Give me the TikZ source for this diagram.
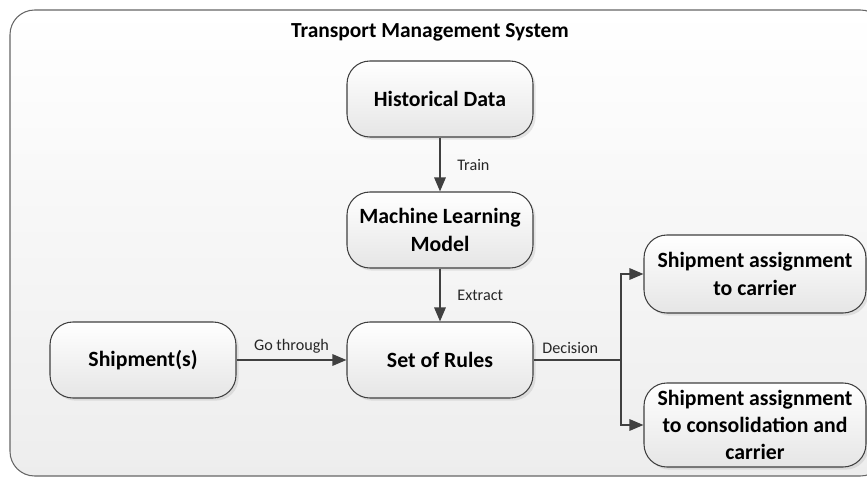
\documentclass[tikz,border=0pt]{standalone}
\usepackage{fontspec}
\setmainfont{Carlito}
\usetikzlibrary{arrows.meta,shadows,positioning}

\definecolor{linegray}{RGB}{64,64,64}

\begin{document}
\begin{tikzpicture}[x=0.02cm,y=-0.02cm]

      \useasboundingbox (0,0) rectangle (867,477);

      % system frame
      \path[draw=black!60, line width=0.6pt, rounded corners=14pt,
            top color=white, bottom color=black!7] (10,10) rectangle (885,476);
      \node (title) at (430,32) {\fontsize{12.2}{14}\selectfont\bfseries Transport Management System};

      \begin{scope}[every node/.style={draw=linegray, line width=0.6pt, rounded corners=13pt,
          top color=white, bottom color=black!10,
          drop shadow={opacity=0.18, shadow xshift=1.5pt, shadow yshift=-1.5pt},
          align=center, font=\fontsize{12.4}{15.6}\selectfont\bfseries,
          minimum width=3.72cm, minimum height=1.52cm, inner sep=2pt}]
        \node (hist)    at (440,99)  {Historical Data};
        \node (ml)      at (440,230) {Machine Learning\\Model};
        \node (rules)   at (440,360) {Set of Rules};
        \node (ship)    at (143,360) {Shipment(s)};
        \node (carrier) at (755,274) [minimum width=4.44cm, minimum height=1.56cm] {Shipment assignment\\to carrier};
        \node (consol)  at (755,425) [minimum width=4.44cm, minimum height=1.68cm] {Shipment assignment\\to consolidation and\\carrier};
      \end{scope}

      \coordinate (split) at (621,360);

      \begin{scope}[every node/.style={font=\fontsize{9.2}{11}\selectfont, text=black!85}]

        \begin{scope}[every edge/.style={draw=linegray, line width=1.1pt, -{Triangle[length=8pt,width=6.5pt]}}]
          \path (hist)  edge node[right=6pt] {Train} (ml);
          \path (ml)    edge node[right=6pt] {Extract} (rules);
          \path (ship)  edge node[above] {Go through} (rules);
        \end{scope}

        \draw[linegray, line width=1.1pt] (rules) -- node[above, pos=0.42] {Decision} (split);
        \draw[linegray, line width=1.1pt, -{Triangle[length=8pt,width=6.5pt]}] (split) |- (carrier);
        \draw[linegray, line width=1.1pt, -{Triangle[length=8pt,width=6.5pt]}] (split) |- (consol);
      \end{scope}

    \end{tikzpicture}
\end{document}
